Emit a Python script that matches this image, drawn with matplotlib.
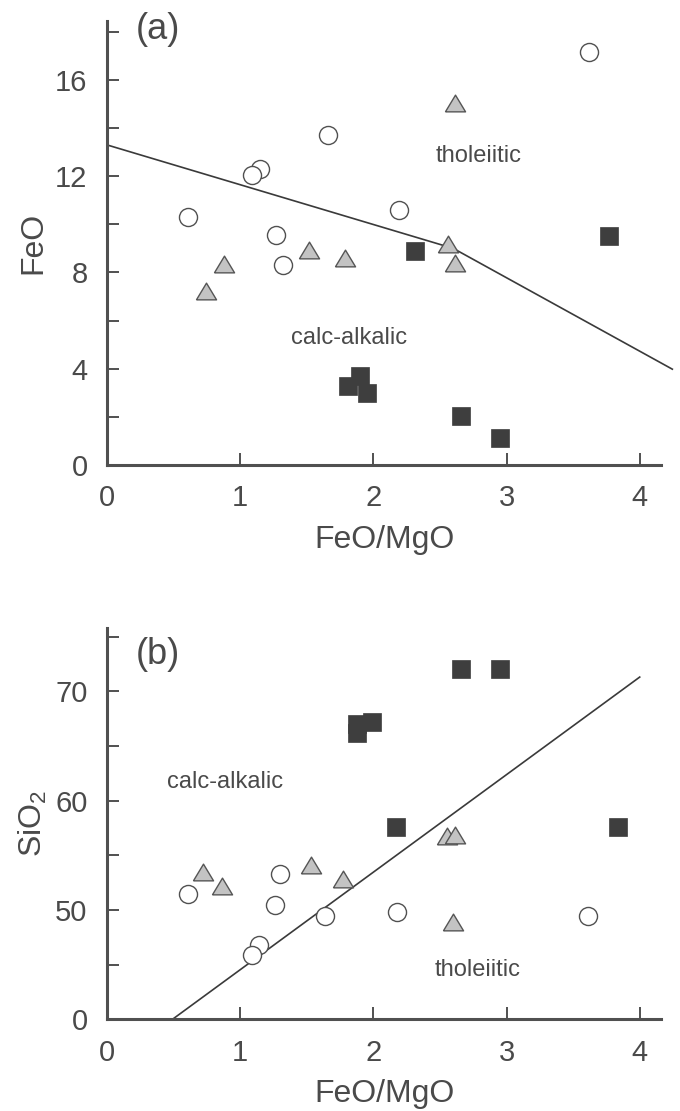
import numpy as np
import matplotlib
matplotlib.use('Agg')
import matplotlib.pyplot as plt
from matplotlib.path import Path

plt.rcParams['font.family'] = ['Liberation Sans', 'DejaVu Sans']
plt.rcParams['mathtext.default'] = 'regular'

# ---- panel (a): FeO vs FeO/MgO ----
circ_a_x = [3.62, 1.66, 1.15, 1.085, 2.19, 0.61, 1.27, 1.32]
circ_a_y = [17.17, 13.70, 12.29, 12.04, 10.61, 10.29, 9.56, 8.31]
tri_a_x = [2.61, 2.56, 2.61, 1.52, 1.79, 0.875, 0.74]
tri_a_y = [15.06, 9.19, 8.38, 8.94, 8.60, 8.36, 7.24]
sq_a_x = [3.77, 2.31, 1.90, 1.81, 1.95, 2.66, 2.95]
sq_a_y = [9.52, 8.91, 3.70, 3.30, 3.00, 2.03, 1.10]
line_a_x = [0.0, 2.60, 4.245]
line_a_y = [13.3, 9.0, 3.98]

# ---- panel (b): SiO2 vs FeO/MgO (axis broken, bottom tick = 40 shown as 0) ----
circ_b_x = [0.61, 1.30, 1.26, 1.64, 2.18, 3.61, 1.14, 1.09]
circ_b_y = [51.5, 53.3, 50.5, 49.5, 49.8, 49.5, 46.8, 45.9]
tri_b_x = [2.55, 2.61, 1.53, 0.72, 0.86, 1.77, 2.60]
tri_b_y = [56.8, 56.9, 54.1, 53.5, 52.2, 52.8, 48.9]
sq_b_x = [2.66, 2.95, 1.88, 1.88, 1.99, 2.17, 3.84]
sq_b_y = [72.0, 72.0, 67.0, 66.2, 67.2, 57.6, 57.6]
line_b_x = [0.49, 4.0]
line_b_y = [40.0, 71.3]

b_ticks = [40, 50, 60, 70]
b_ticklabels = ['0', '50', '60', '70']

ink = '#4a4a4a'
tri_marker = Path([(-1, -0.83), (1, -0.83), (0, 0.83), (-1, -0.83)])


def style_axes(ax):
    for s in ['top', 'right']:
        ax.spines[s].set_visible(False)
    for s in ['left', 'bottom']:
        ax.spines[s].set_linewidth(2.2)
        ax.spines[s].set_color('#505050')
    ax.tick_params(which='both', direction='in', length=8.5, width=1.4,
                   color='#505050', labelsize=21, labelcolor=ink, pad=14)


def draw_points(ax, cx, cy, tx, ty, sx, sy):
    ax.plot(cx, cy, 'o', ms=13, mfc='white', mec='#505050', mew=1.0, zorder=3)
    ax.plot(tx, ty, ls='none', marker=tri_marker, ms=14.5, mfc='#c3c3c3',
            mec='#555555', mew=1.0, zorder=3)
    ax.plot(sx, sy, 's', ms=13, mfc='#3e3e3e', mec='#3e3e3e', mew=0.5, zorder=4)


fig = plt.figure(figsize=(6.8, 11.11), dpi=100)
ax_a = fig.add_axes([0.1574, 0.5815, 0.8147, 0.3996])
ax_b = fig.add_axes([0.1574, 0.0824, 0.8147, 0.3520])

# panel a
ax_a.plot(line_a_x, line_a_y, color='#3a3a3a', lw=1.2, clip_on=False, zorder=2)
draw_points(ax_a, circ_a_x, circ_a_y, tri_a_x, tri_a_y, sq_a_x, sq_a_y)
ax_a.set_xlim(0, 4.16)
ax_a.set_ylim(0, 18.45)
ax_a.set_xticks([0, 1, 2, 3, 4])
ax_a.set_yticks([0, 4, 8, 12, 16])
ax_a.set_yticks([2, 6, 10, 14, 18], minor=True)
style_axes(ax_a)
ax_a.set_xlabel('FeO/MgO', fontsize=23, color=ink)
ax_a.set_ylabel('FeO', fontsize=23, color=ink)
ax_a.xaxis.set_label_coords(0.5, -0.135)
ax_a.yaxis.set_label_coords(-0.105, 0.5)
ax_a.text(0.38, 18.1, '(a)', fontsize=26, color=ink, ha='center', va='center')
ax_a.text(2.79, 12.82, 'tholeiitic', fontsize=17, color=ink, ha='center', va='center')
ax_a.text(1.82, 5.27, 'calc-alkalic', fontsize=17, color=ink, ha='center', va='center')

# panel b
ax_b.plot(line_b_x, line_b_y, color='#3a3a3a', lw=1.2, clip_on=False, zorder=2)
draw_points(ax_b, circ_b_x, circ_b_y, tri_b_x, tri_b_y, sq_b_x, sq_b_y)
ax_b.set_xlim(0, 4.16)
ax_b.set_ylim(40, 75.75)
ax_b.set_xticks([0, 1, 2, 3, 4])
ax_b.set_yticks(b_ticks)
ax_b.set_yticklabels(b_ticklabels)
ax_b.set_yticks([45, 55, 65, 75], minor=True)
style_axes(ax_b)
ax_b.set_xlabel('FeO/MgO', fontsize=23, color=ink)
ax_b.set_ylabel('SiO$_2$', fontsize=23, color=ink)
ax_b.xaxis.set_label_coords(0.5, -0.152)
ax_b.yaxis.set_label_coords(-0.105, 0.5)
ax_b.text(0.38, 73.36, '(b)', fontsize=26, color=ink, ha='center', va='center')
ax_b.text(0.887, 61.69, 'calc-alkalic', fontsize=17, color=ink, ha='center', va='center')
ax_b.text(2.78, 44.54, 'tholeiitic', fontsize=17, color=ink, ha='center', va='center')

fig.savefig('out.png', dpi=100)
